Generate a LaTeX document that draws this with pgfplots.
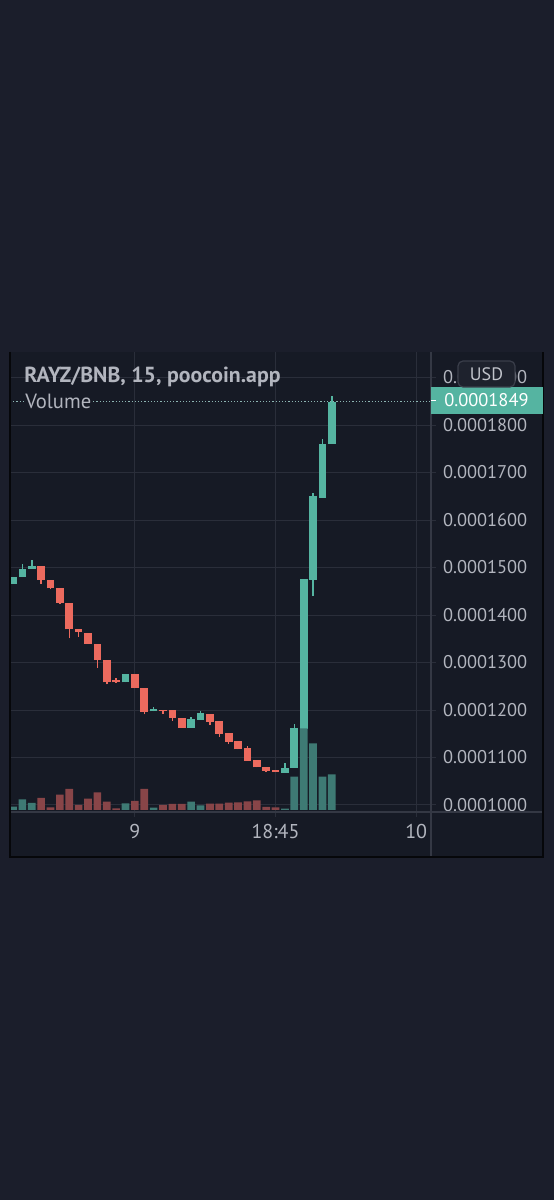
\documentclass[border=0pt]{standalone}
\usepackage{pgfplots}
\pgfplotsset{compat=1.18}
\usepackage{pgfplotstable}
\usepackage{fontspec}
\setmainfont{PT Sans}
\definecolor{outerbg}{HTML}{1B1E2B}
\definecolor{chartbg}{HTML}{161A25}
\definecolor{gridc}{HTML}{2A2E3A}
\definecolor{sepc}{HTML}{343844}
\definecolor{upc}{HTML}{55B4A1}
\definecolor{dnc}{HTML}{EC6A5E}
\definecolor{upv}{HTML}{3E7A74}
\definecolor{dnv}{HTML}{884548}
\definecolor{txt}{HTML}{B2B5BE}
\definecolor{framec}{HTML}{06070A}
\definecolor{usdbg}{HTML}{1E222D}
\definecolor{usdbd}{HTML}{3A3E4A}

% candles: index, open, high, low, close
\pgfplotstableread{
i o h l c
1 1465 1480 1465 1480
2 1480 1507 1480 1497
3 1497 1516 1497 1503
13 1258 1276 1258 1276
16 1197 1207 1197 1202
20 1163 1186 1163 1181
21 1179 1198 1179 1193
30 1068 1088 1068 1078
31 1078 1170 1078 1163
32 1161 1475 1161 1475
33 1474 1656 1440 1650
34 1647 1771 1647 1761
35 1761 1861 1761 1849
}\up
\pgfplotstableread{
i o h l c
4 1504 1504 1466 1474
5 1474 1474 1454 1456
6 1457 1457 1423 1426
7 1426 1426 1351 1370
8 1370 1370 1354 1364
9 1363 1363 1339 1339
10 1340 1340 1289 1305
11 1306 1306 1254 1258
12 1263 1268 1257 1258
14 1276 1276 1246 1246
15 1247 1247 1191 1196
17 1201 1201 1192 1198
18 1200 1200 1177 1184
19 1184 1184 1163 1163
22 1192 1192 1169 1175
23 1176 1176 1144 1150
24 1151 1151 1128 1133
25 1134 1134 1117 1117
26 1119 1125 1093 1093
27 1095 1095 1079 1079
28 1079 1079 1069 1072
29 1074 1074 1069 1069
}\down
% volume (relative units)
\pgfplotstableread{
i v
1 3.3
2 10.7
3 7
13 6.7
16 2.3
20 8.3
21 4.5
30 1.3
31 33.3
32 81.5
33 66.5
34 33.3
35 35.7
}\upvol
\pgfplotstableread{
i v
4 12
5 2.7
6 15.3
7 21
8 5
9 11.3
10 17.7
11 8.3
12 1.7
14 9.2
15 21
17 5
18 6
19 6
22 6.3
23 6.3
24 7.3
25 7.5
26 8.5
27 9.5
28 3.2
29 2.5
}\downvol

\begin{document}
\begin{tikzpicture}
\begin{scope}[x=0.5pt,y=0.5pt]
\fill[outerbg] (0,0) rectangle (554,1200);
\fill[chartbg] (10,343) rectangle (543,848);
\end{scope}

\begin{axis}[at={(5pt,194pt)}, anchor=south west, scale only axis,
  width=210.5pt, height=230pt,
  xmin=0.68, xmax=45.58, ymin=985.26, ymax=1953.7,
  axis line style={draw=none},
  xtick={14,29,44}, xticklabels={9,18:45,10},
  ytick={1000,1100,...,1900},
  yticklabels={0.0001000,0.0001100,0.0001200,0.0001300,0.0001400,0.0001500,0.0001600,0.0001700,0.0001800,0.0001900},
  xtick pos=bottom, ytick pos=right, yticklabel pos=right,
  tick align=outside, major tick length=2.5pt,
  tick style={draw=gridc, line width=0.5pt},
  grid=major, grid style={draw=gridc, line width=0.5pt},
  yticklabel style={anchor=west, font=\fontsize{9.2}{11}\selectfont, text=txt},
  xticklabel style={font=\fontsize{10}{12}\selectfont, text=txt},
]
% wicks
\addplot[draw=none, mark=none, forget plot,
  error bars/.cd, y dir=plus, y explicit, error mark=none,
  error bar style={line width=0.75pt, draw=upc}]
  table[x=i, y=l, y error plus expr=\thisrow{h}-\thisrow{l}] {\up};
\addplot[draw=none, mark=none, forget plot,
  error bars/.cd, y dir=plus, y explicit, error mark=none,
  error bar style={line width=0.75pt, draw=dnc}]
  table[x=i, y=l, y error plus expr=\thisrow{h}-\thisrow{l}] {\down};
% bodies
\addplot[draw=none, mark=none, forget plot,
  error bars/.cd, y dir=plus, y explicit, error mark=none,
  error bar style={line width=3.85pt, draw=upc}]
  table[x=i, y=o, y error plus expr=\thisrow{c}-\thisrow{o}] {\up};
\addplot[draw=none, mark=none, forget plot,
  error bars/.cd, y dir=plus, y explicit, error mark=none,
  error bar style={line width=3.85pt, draw=dnc}]
  table[x=i, y=c, y error plus expr=\thisrow{o}-\thisrow{c}] {\down};
% last price line
\draw[txt!60!upc, line width=0.6pt, dash pattern=on 0.6pt off 1.0pt]
  (axis cs:0.68,1849) -- (axis cs:45.58,1849);
\end{axis}

\begin{axis}[at={(5pt,194pt)}, anchor=south west, scale only axis,
  width=210.5pt, height=230pt,
  xmin=0.68, xmax=45.58, ymin=-2, ymax=458,
  hide axis, ybar, bar width=3.85pt, bar shift=0pt]
\addplot[fill=upv, draw=none] table[x=i, y=v] {\upvol};
\addplot[fill=dnv, draw=none] table[x=i, y=v] {\downvol};
\end{axis}

\begin{scope}[x=0.5pt,y=0.5pt]
% separators and frame
\draw[sepc, line width=0.6pt] (431,343) -- (431,848);
\draw[sepc, line width=0.6pt] (10,388) -- (543,388);
\draw[framec, line width=1.2pt] (10,848) -- (10,343) -- (543,343) -- (543,848);

% last price label
\fill[upc] (431,786) rectangle (543,813);
\draw[white, line width=0.6pt] (431,799.5) -- (436,799.5);
\node[anchor=west, inner sep=0pt, text=white, font=\fontsize{9.2}{11}\selectfont] at (444,799.5) {0.0001849};

% USD box
\draw[fill=usdbg, draw=usdbd, line width=0.6pt, rounded corners=2.5pt] (458,813) rectangle (515,839);
\node[text=txt!80!white, font=\fontsize{9}{11}\selectfont] at (486.5,826) {USD};

% titles
\node[anchor=base west, inner sep=0pt, text=txt, font=\bfseries\fontsize{10.9}{12}\selectfont] at (24,817) {RAYZ/BNB, 15, poocoin.app};
\node[anchor=base west, inner sep=0.5pt, fill=chartbg, text=txt, font=\fontsize{10.3}{12}\selectfont] at (24,791) {Volume};
\end{scope}

\pgfresetboundingbox
\useasboundingbox (0,0) rectangle (277pt,600pt);
\end{tikzpicture}
\end{document}
